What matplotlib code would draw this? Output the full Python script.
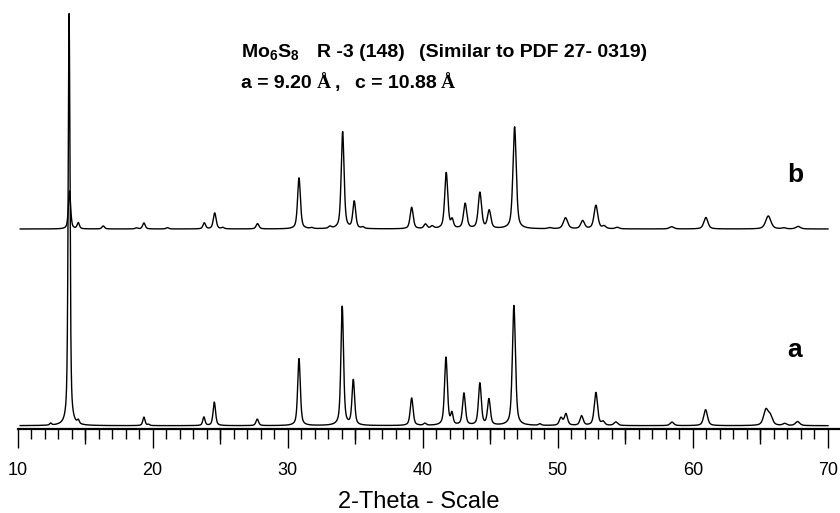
import numpy as np
import matplotlib
matplotlib.use("Agg")
import matplotlib.pyplot as plt
from matplotlib.ticker import MultipleLocator

plt.rcParams['font.family'] = ['Liberation Sans', 'DejaVu Sans']
plt.rcParams['mathtext.fontset'] = 'custom'
plt.rcParams['mathtext.bf'] = 'Liberation Sans:bold'
plt.rcParams['mathtext.rm'] = 'Liberation Sans:bold'
plt.rcParams['mathtext.default'] = 'bf'

# Reflection list for pattern a: 2-theta (deg), peak height, FWHM (deg)
pos_a = [12.45, 13.82, 14.50, 19.36, 19.70, 23.80, 24.57, 27.75, 30.84, 34.04,
         34.86, 39.18, 40.16, 41.72, 42.16, 43.05, 44.23, 44.90, 46.75, 48.67,
         50.23, 50.60, 51.76, 52.82, 53.35, 54.30, 58.45, 60.94, 65.40, 65.72,
         66.80, 67.75]
int_a = [2, 412, 3.5, 8.5, 1.2, 8.5, 23.5, 6.5, 67, 119,
         45, 27.5, 2, 68, 11, 32, 42, 26, 120, 1.5,
         7.5, 11.5, 9.5, 33, 3.5, 3.5, 3.5, 16, 15, 9,
         2, 4]
fwhm_a = [0.17, 0.16, 0.17, 0.2, 0.17, 0.2, 0.22, 0.23, 0.23, 0.23,
          0.23, 0.25, 0.23, 0.25, 0.2, 0.25, 0.25, 0.25, 0.27, 0.23,
          0.28, 0.28, 0.28, 0.29, 0.28, 0.33, 0.33, 0.33, 0.4, 0.4,
          0.33, 0.38]

# Reflection list for pattern b
pos_b = [13.85, 14.50, 16.35, 18.80, 19.36, 21.10, 23.83, 24.60, 25.20, 27.77,
         30.84, 31.78, 33.13, 34.07, 34.93, 35.57, 39.18, 40.20, 40.70, 41.74,
         42.18, 43.14, 44.23, 44.92, 46.80, 49.40, 50.57, 51.84, 52.82, 53.43,
         54.40, 58.42, 60.96, 65.58, 66.73, 67.79]
int_b = [38, 6, 3, 1, 6, 1.3, 6, 16, 1.3, 5.3,
         51, 1, 2, 97, 27, 1.5, 21.5, 4.5, 2.5, 56,
         8, 25, 36, 18, 102, 1, 11, 8, 23.5, 2.5,
         1.5, 2.2, 11.5, 13, 1, 2.5]
fwhm_b = [0.2, 0.2, 0.23, 0.23, 0.23, 0.23, 0.23, 0.25, 0.23, 0.25,
          0.25, 0.23, 0.25, 0.25, 0.25, 0.23, 0.27, 0.27, 0.27, 0.27,
          0.22, 0.29, 0.29, 0.29, 0.29, 0.33, 0.38, 0.33, 0.33, 0.31,
          0.33, 0.38, 0.36, 0.46, 0.33, 0.4]

offset_b = 196.7
two_theta = np.arange(10.2, 70.0 + 1e-9, 0.01)


def pattern(x, pos, height, fwhm, eta=0.55):
    y = np.zeros_like(x)
    for p, h, w in zip(pos, height, fwhm):
        g = np.exp(-4 * np.log(2) * ((x - p) / w) ** 2)
        l = 1.0 / (1.0 + 4 * ((x - p) / w) ** 2)
        y += h * (eta * l + (1 - eta) * g)
    return y


ya = pattern(two_theta, pos_a, int_a, fwhm_a)
yb = pattern(two_theta, pos_b, int_b, fwhm_b) + offset_b

W, H = 840, 513
fig = plt.figure(figsize=(W / 100, H / 100), dpi=100)
ax = fig.add_axes([17.5 / W, (H - 429) / H, 1 - 17.5 / W, 429 / H])

ax.plot(two_theta, ya, color='black', lw=1.0)
ax.plot(two_theta, yb, color='black', lw=1.0)

ax.set_xlim(10, 70.89)
ax.set_ylim(-3.3, 425.7)

for s in ['left', 'right', 'top']:
    ax.spines[s].set_visible(False)
ax.spines['bottom'].set_linewidth(1.6)
ax.set_yticks([])

ax.xaxis.set_major_locator(MultipleLocator(10))
ax.xaxis.set_minor_locator(MultipleLocator(1))
ax.tick_params(axis='x', which='major', direction='out', length=14, width=1.0,
               labelsize=13, pad=9.5)
ax.tick_params(axis='x', which='minor', direction='out', length=7.2, width=1.0)

# medium ticks at the half-decades
sec = ax.secondary_xaxis('bottom')
sec.set_xticks(np.arange(15, 70, 10))
sec.tick_params(direction='out', length=10.8, width=1.0, labelbottom=False)
sec.spines['bottom'].set_visible(False)

ax.set_xlabel('2-Theta - Scale', fontsize=17, va='top')
ax.xaxis.set_label_coords(0.4875, -0.144)


def fx(px):
    return px / W


def fy(py):
    return 1 - py / H


bold = dict(fontsize=14, fontweight='bold', va='baseline', ha='left')
serif_bold = dict(family='Liberation Serif', fontsize=14, fontweight='bold',
                  va='baseline', ha='left')
fig.text(fx(241), fy(56.7), 'Mo$_6$S$_8$', **bold)
fig.text(fx(317), fy(56.7), 'R -3 (148)', **bold)
fig.text(fx(647), fy(56.7), '(Similar to PDF 27- 0319)',
         **{**bold, 'ha': 'right'})

fig.text(fx(241), fy(88.3), 'a = 9.20', **bold)
fig.text(fx(317), fy(88.3), 'Å', **serif_bold)
fig.text(fx(335), fy(88.3), ',', **bold)
fig.text(fx(355), fy(88.3), 'c = 10.88', **bold)
fig.text(fx(441), fy(88.3), 'Å', **serif_bold)

fig.text(fx(795), fy(181.7), 'b', fontsize=19, fontweight='bold',
         va='baseline', ha='center')
fig.text(fx(795), fy(356.7), 'a', fontsize=19, fontweight='bold',
         va='baseline', ha='center')

fig.savefig('out.png', dpi=100)
